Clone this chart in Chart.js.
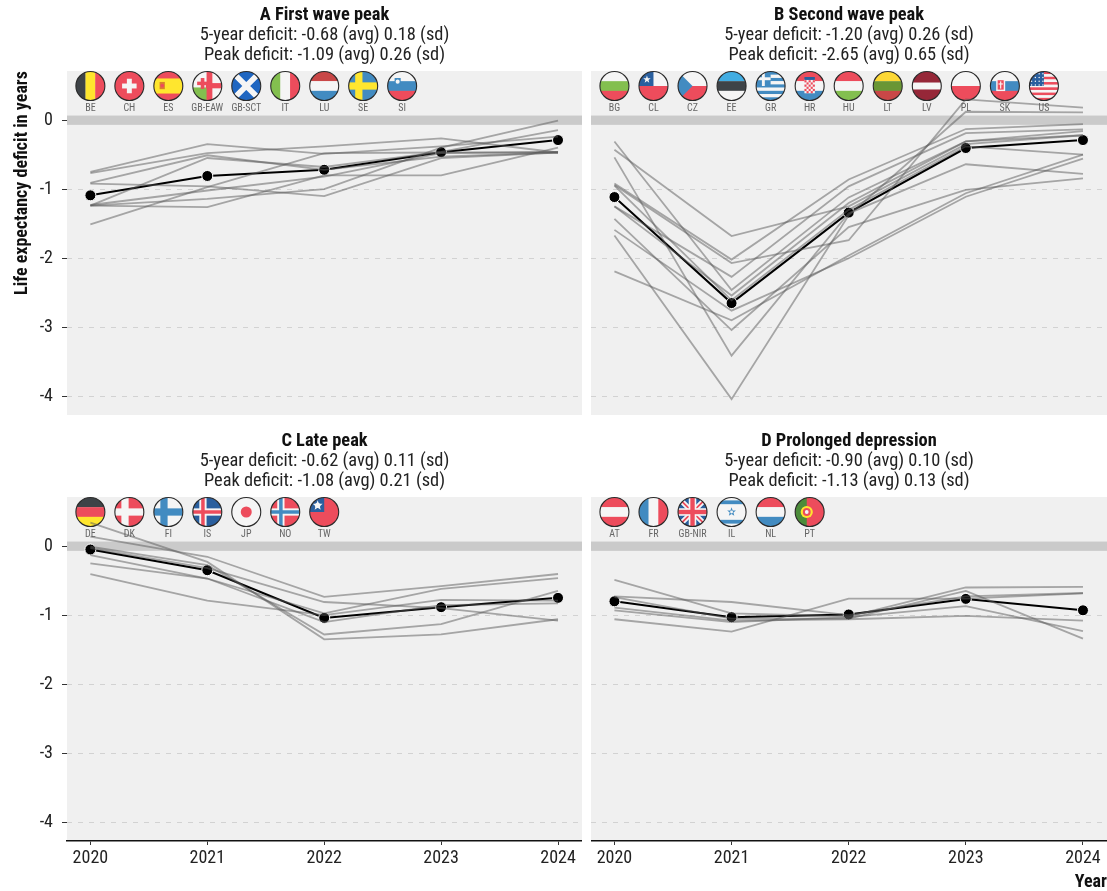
<!DOCTYPE html>
<html>
<head>
<meta charset="utf-8">
<script src="https://cdn.jsdelivr.net/npm/chart.js@4"></script>
<style>
  html, body { margin: 0; background: #fff; }
  canvas { position: absolute; }
</style>
</head>
<body>
<canvas id="panel_a" style="left:0;top:0"></canvas>
<canvas id="panel_b" style="left:591px;top:0"></canvas>
<canvas id="panel_c" style="left:0;top:426px"></canvas>
<canvas id="panel_d" style="left:591px;top:426px"></canvas>
<script>
const years = [2020, 2021, 2022, 2023, 2024];
const y_ticks = [0, -1, -2, -3, -4];

const a_title = "A First wave peak";
const a_sub = ["5-year deficit: -0.68 (avg) 0.18 (sd)", "Peak deficit: -1.09 (avg) 0.26 (sd)"];
const a_codes = ["BE", "CH", "ES", "GB-EAW", "GB-SCT", "IT", "LU", "SE", "SI"];
const a_mean = [-1.09, -0.81, -0.72, -0.465, -0.29];
const a_lines = [
    [-0.75, -0.35, -0.49, -0.38, -0.24],
    [-0.77, -0.48, -0.38, -0.265, -0.47],
    [-0.91, -0.51, -0.72, -0.53, -0.47],
    [-1.24, -0.55, -0.68, -0.46, -0.145],
    [-0.92, -0.96, -1.10, -0.55, -0.47],
    [-1.24, -1.14, -1.00, -0.40, -0.01],
    [-1.24, -1.26, -0.80, -0.80, -0.40],
    [-1.51, -0.97, -0.48, -0.47, -0.47],
    [-1.23, -1.02, -0.82, -0.48, -0.46]
];

const b_title = "B Second wave peak";
const b_sub = ["5-year deficit: -1.20 (avg) 0.26 (sd)", "Peak deficit: -2.65 (avg) 0.65 (sd)"];
const b_codes = ["BG", "CL", "CZ", "EE", "GR", "HR", "HU", "LT", "LV", "PL", "SK", "US"];
const b_mean = [-1.115, -2.65, -1.34, -0.405, -0.29];
const b_lines = [
    [-0.43, -1.68, -1.25, -0.35, -0.22],
    [-0.92, -2.02, -0.86, -0.13, -0.06],
    [-0.94, -2.07, -1.74, 0.30, 0.18],
    [-1.25, -2.27, -0.96, -0.19, -0.135],
    [-0.31, -2.46, -1.12, -0.31, -0.16],
    [-1.25, -2.54, -1.20, -0.31, -0.22],
    [-0.95, -2.61, -1.30, -0.38, -0.50],
    [-2.19, -2.90, -1.96, -1.06, -0.50],
    [-1.59, -2.76, -2.00, -1.11, -0.56],
    [-1.43, -3.04, -1.55, -1.01, -0.845],
    [-0.54, -3.41, -1.35, -0.64, -0.78],
    [-1.67, -4.04, -1.38, 0.12, 0.11]
];

const c_title = "C Late peak";
const c_sub = ["5-year deficit: -0.62 (avg) 0.11 (sd)", "Peak deficit: -1.08 (avg) 0.21 (sd)"];
const c_codes = ["DE", "DK", "FI", "IS", "JP", "NO", "TW"];
const c_mean = [-0.05, -0.35, -1.04, -0.885, -0.75];
const c_lines = [
    [0.34, -0.23, -1.35, -1.28, -1.06],
    [0.135, -0.155, -0.735, -0.58, -0.405],
    [-0.01, -0.275, -1.28, -1.13, -0.65],
    [-0.03, -0.32, -0.81, -0.90, -1.08],
    [-0.13, -0.47, -0.975, -0.62, -0.465],
    [-0.25, -0.47, -1.10, -0.855, -0.83],
    [-0.405, -0.79, -1.00, -0.78, -0.79]
];

const d_title = "D Prolonged depression";
const d_sub = ["5-year deficit: -0.90 (avg) 0.10 (sd)", "Peak deficit: -1.13 (avg) 0.13 (sd)"];
const d_codes = ["AT", "FR", "GB-NIR", "IL", "NL", "PT"];
const d_mean = [-0.80, -1.03, -0.99, -0.765, -0.93];
const d_lines = [
    [-0.49, -0.975, -1.02, -0.60, -0.59],
    [-0.73, -0.81, -1.00, -0.73, -0.68],
    [-0.74, -1.05, -1.05, -0.65, -1.34],
    [-0.89, -1.08, -1.06, -1.01, -1.08],
    [-0.93, -1.10, -1.03, -0.87, -1.23],
    [-1.06, -1.24, -0.76, -0.76, -0.685]
];

const FONT = "'Roboto Condensed', Roboto, sans-serif";
const RED = "#ed4c5c", WHITE = "#f5f5f5", BLUE = "#428bc1", GREEN = "#83bf4f",
      YELLOW = "#ffe62e", DARK = "#3e4347", NAVY = "#2a5f9e", MAROON = "#962738";

// flag helpers, all in a unit circle
function rect(g, c, x, y, w, h) { g.fillStyle = c; g.fillRect(x, y, w, h); }
function hbars(g, cols) { cols.forEach((c, i) => rect(g, c, -1, -1 + i * 2 / cols.length, 2, 2 / cols.length + 0.01)); }
function vbars(g, cols) { cols.forEach((c, i) => rect(g, c, -1 + i * 2 / cols.length, -1, 2 / cols.length + 0.01, 2)); }
function nordic(g, bg, c1, c2) {
    rect(g, bg, -1, -1, 2, 2);
    rect(g, c1, -0.55, -1, 0.5, 2); rect(g, c1, -1, -0.25, 2, 0.5);
    if (c2) { rect(g, c2, -0.42, -1, 0.24, 2); rect(g, c2, -1, -0.12, 2, 0.24); }
}
function saltire(g, c, w) {
    g.strokeStyle = c; g.lineWidth = w;
    g.beginPath(); g.moveTo(-1, -1); g.lineTo(1, 1); g.moveTo(1, -1); g.lineTo(-1, 1); g.stroke();
}
function dot(g, c, x, y, r) { g.fillStyle = c; g.beginPath(); g.arc(x, y, r, 0, 7); g.fill(); }
function star(g, c, x, y, r) {
    g.fillStyle = c; g.beginPath();
    for (let i = 0; i < 10; i++) {
        const a = -Math.PI / 2 + i * Math.PI / 5, k = i % 2 ? r * 0.42 : r;
        g.lineTo(x + k * Math.cos(a), y + k * Math.sin(a));
    }
    g.fill();
}

const flags = {
    "BE": g => vbars(g, [DARK, YELLOW, RED]),
    "CH": g => { rect(g, RED, -1, -1, 2, 2); rect(g, WHITE, -0.5, -0.17, 1, 0.34); rect(g, WHITE, -0.17, -0.5, 0.34, 1); },
    "ES": g => { rect(g, RED, -1, -1, 2, 2); rect(g, YELLOW, -1, -0.52, 2, 1.04); rect(g, "#d9822b", -0.6, -0.28, 0.36, 0.5); dot(g, RED, -0.42, -0.02, 0.13); },
    "GB-EAW": g => {
        rect(g, WHITE, -1, -1, 2, 2); rect(g, GREEN, -1, 0.1, 1, 0.9);
        rect(g, RED, -0.05, -1, 0.4, 2); rect(g, RED, -0.1, -0.2, 1.1, 0.36);
        rect(g, RED, -0.7, -0.3, 0.7, 0.24); rect(g, RED, -0.45, -0.55, 0.25, 0.75);
    },
    "GB-SCT": g => { rect(g, "#1f66c1", -1, -1, 2, 2); saltire(g, WHITE, 0.38); },
    "IT": g => vbars(g, [GREEN, WHITE, RED]),
    "LU": g => hbars(g, ["#c94747", WHITE, BLUE]),
    "SE": g => nordic(g, BLUE, YELLOW),
    "SI": g => { hbars(g, [WHITE, BLUE, RED]); rect(g, BLUE, -0.52, -0.55, 0.42, 0.5); dot(g, WHITE, -0.31, -0.3, 0.14); },
    "BG": g => hbars(g, [WHITE, GREEN, RED]),
    "CL": g => { rect(g, WHITE, -1, -1, 2, 1); rect(g, RED, -1, 0, 2, 1); rect(g, NAVY, -1, -1, 1, 1); star(g, WHITE, -0.45, -0.45, 0.27); },
    "CZ": g => {
        rect(g, WHITE, -1, -1, 2, 1); rect(g, RED, -1, 0, 2, 1);
        g.fillStyle = BLUE; g.beginPath(); g.moveTo(-1, -1); g.lineTo(0, 0); g.lineTo(-1, 1); g.fill();
    },
    "EE": g => hbars(g, ["#42ade2", DARK, WHITE]),
    "GR": g => {
        for (let i = 0; i < 9; i++) rect(g, i % 2 ? WHITE : BLUE, -1, -1 + i * 2 / 9, 2, 2 / 9 + 0.01);
        rect(g, BLUE, -1, -1, 1, 1); rect(g, WHITE, -0.6, -1, 0.2, 1); rect(g, WHITE, -1, -0.6, 1, 0.2);
    },
    "HR": g => {
        hbars(g, [RED, WHITE, BLUE]);
        rect(g, WHITE, -0.36, -0.45, 0.72, 0.95);
        for (let i = 0; i < 5; i++) for (let j = 0; j < 6; j++) {
            if ((i + j) % 2 == 0) rect(g, RED, -0.36 + i * 0.144, -0.4 + j * 0.15, 0.144, 0.15);
        }
        rect(g, NAVY, -0.36, -0.62, 0.72, 0.2);
    },
    "HU": g => hbars(g, [RED, WHITE, GREEN]),
    "LT": g => hbars(g, ["#fdd835", "#699635", "#c94747"]),
    "LV": g => { rect(g, MAROON, -1, -1, 2, 2); rect(g, WHITE, -1, -0.24, 2, 0.48); },
    "PL": g => { rect(g, WHITE, -1, -1, 2, 1); rect(g, RED, -1, 0, 2, 1); },
    "SK": g => {
        hbars(g, [WHITE, BLUE, RED]);
        rect(g, WHITE, -0.6, -0.5, 0.62, 0.85); rect(g, RED, -0.5, -0.4, 0.42, 0.65);
        rect(g, WHITE, -0.33, -0.32, 0.08, 0.5); rect(g, WHITE, -0.44, -0.18, 0.3, 0.08);
    },
    "US": g => {
        for (let i = 0; i < 11; i++) rect(g, i % 2 ? WHITE : RED, -1, -1 + i * 2 / 11, 2, 2 / 11 + 0.01);
        rect(g, NAVY, -1, -1, 1, 1);
        for (let i = 0; i < 4; i++) for (let j = 0; j < 4; j++) dot(g, WHITE, -0.85 + i * 0.26, -0.85 + j * 0.26, 0.05);
    },
    "DE": g => hbars(g, [DARK, RED, YELLOW]),
    "DK": g => nordic(g, RED, WHITE),
    "FI": g => nordic(g, WHITE, BLUE),
    "IS": g => nordic(g, NAVY, WHITE, RED),
    "JP": g => { rect(g, WHITE, -1, -1, 2, 2); dot(g, RED, 0, 0, 0.38); },
    "NO": g => nordic(g, RED, WHITE, BLUE),
    "TW": g => { rect(g, RED, -1, -1, 2, 2); rect(g, NAVY, -1, -1, 1, 1); star(g, WHITE, -0.45, -0.45, 0.36); dot(g, WHITE, -0.45, -0.45, 0.18); },
    "AT": g => hbars(g, [RED, WHITE, RED]),
    "FR": g => vbars(g, [BLUE, WHITE, RED]),
    "GB-NIR": g => {
        rect(g, NAVY, -1, -1, 2, 2); saltire(g, WHITE, 0.36); saltire(g, RED, 0.12);
        rect(g, WHITE, -0.26, -1, 0.52, 2); rect(g, WHITE, -1, -0.26, 2, 0.52);
        rect(g, RED, -0.15, -1, 0.3, 2); rect(g, RED, -1, -0.15, 2, 0.3);
    },
    "IL": g => {
        rect(g, WHITE, -1, -1, 2, 2); rect(g, BLUE, -1, -0.8, 2, 0.26); rect(g, BLUE, -1, 0.54, 2, 0.26);
        star(g, BLUE, 0, 0, 0.32); dot(g, WHITE, 0, 0, 0.1);
    },
    "NL": g => hbars(g, [RED, WHITE, BLUE]),
    "PT": g => {
        rect(g, RED, -1, -1, 2, 2); rect(g, "#4c8c3a", -1, -1, 0.8, 2);
        dot(g, YELLOW, -0.2, 0, 0.42); dot(g, RED, -0.2, 0, 0.27); dot(g, WHITE, -0.2, 0, 0.13);
    }
};

const panel_plugin = {
    id: "panel_plugin",
    beforeDraw(chart) {
        const a = chart.chartArea, c = chart.ctx;
        c.save();
        c.fillStyle = "#f0f0f0";
        c.fillRect(a.left, a.top, a.right - a.left, a.bottom - a.top);
        c.restore();
    },
    beforeDatasetsDraw(chart, args, opts) {
        const a = chart.chartArea, c = chart.ctx, sx = chart.scales.x, sy = chart.scales.y;
        c.save();
        // zero reference band
        c.fillStyle = "#cacaca";
        const top = sy.getPixelForValue(0.065), bot = sy.getPixelForValue(-0.07);
        c.fillRect(a.left, top, a.right - a.left, bot - top);
        // country flags with their codes
        const r = 14.5, fy = a.top + 15, ly = a.top + 37;
        opts.codes.forEach((code, i) => {
            const fx = sx.getPixelForValue(years[0] + i / 3);
            c.save();
            c.translate(fx, fy);
            c.beginPath(); c.arc(0, 0, r, 0, 7); c.clip();
            c.scale(r, r);
            flags[code](c);
            c.restore();
            c.strokeStyle = "#2a2a2a"; c.lineWidth = 1.1;
            c.beginPath(); c.arc(fx, fy, r, 0, 7); c.stroke();
            c.fillStyle = "#666";
            c.font = "10px " + FONT;
            c.textAlign = "center"; c.textBaseline = "middle";
            c.fillText(code, fx, ly);
        });
        c.restore();
    }
};

function draw_panel(id, title, sub, codes, lines, mean, is_left, is_bottom, show_year) {
    const datasets = lines.map(vals => ({
        data: vals.map((v, i) => ({ x: years[i], y: v })),
        borderColor: "rgba(90, 90, 90, 0.5)",
        borderWidth: 1.8,
        pointRadius: 0,
        tension: 0
    }));
    datasets.push({
        data: mean.map((v, i) => ({ x: years[i], y: v })),
        borderColor: "#000",
        borderWidth: 2,
        pointRadius: 5.5,
        pointBackgroundColor: "#000",
        pointBorderColor: "#fff",
        pointBorderWidth: 1,
        tension: 0
    });
    const canvas = document.getElementById(id);
    canvas.width = is_left ? 582 : 516;
    canvas.height = 465;
    new Chart(canvas, {
        type: "line",
        data: { datasets: datasets },
        plugins: [panel_plugin],
        options: {
            responsive: false,
            animation: false,
            layout: { padding: 0, autoPadding: false },
            plugins: {
                legend: { display: false },
                tooltip: { enabled: false },
                panel_plugin: { codes: codes },
                title: {
                    display: true, text: title, color: "#111", fullSize: false,
                    font: { family: FONT, size: 18.4, weight: "bold", lineHeight: "20px" },
                    padding: { top: 5, bottom: 0 }
                },
                subtitle: {
                    display: true, text: sub, color: "#222", fullSize: false,
                    font: { family: FONT, size: 18.4, weight: "normal", lineHeight: "20px" },
                    padding: { top: 0, bottom: 6 }
                }
            },
            scales: {
                x: {
                    type: "linear",
                    min: 2020 - 23.4 / 117,
                    max: 2024 + 24 / 117,
                    afterBuildTicks: s => { s.ticks = years.map(v => ({ value: v })); },
                    afterFit: s => { s.height = 50; },
                    grid: { display: is_bottom, drawOnChartArea: false, color: "#333", tickColor: "#333", tickLength: 4 },
                    border: { display: is_bottom, color: "#111", width: 1.6 },
                    ticks: {
                        display: is_bottom,
                        color: "#222", padding: 3, maxRotation: 0, autoSkip: false,
                        font: { family: FONT, size: 18 },
                        callback: v => String(v)
                    },
                    title: {
                        display: show_year, text: "Year", align: "end", color: "#111",
                        font: { family: FONT, size: 18, weight: "bold", lineHeight: "18px" },
                        padding: 0
                    }
                },
                y: {
                    type: "linear",
                    min: -4.27,
                    max: 0.71,
                    afterBuildTicks: s => { s.ticks = y_ticks.map(v => ({ value: v })); },
                    afterFit: s => { s.width = is_left ? 67 : 0; },
                    grid: {
                        drawTicks: is_left,
                        tickLength: 5,
                        tickColor: "#333",
                        tickBorderDash: [],
                        color: c => (c.tick && c.tick.value == 0) ? "rgba(0,0,0,0)" : "#d2d2d2"
                    },
                    border: { display: false, dash: [5, 6] },
                    ticks: {
                        display: is_left, color: "#222", padding: 9,
                        font: { family: FONT, size: 18 },
                        callback: v => String(v)
                    },
                    title: {
                        display: is_left && !is_bottom, text: "Life expectancy deficit in years", align: "end", color: "#111",
                        font: { family: FONT, size: 18, weight: "bold", lineHeight: "18px" },
                        padding: { top: 13, bottom: 0 }
                    }
                }
            }
        }
    });
}

draw_panel("panel_a", a_title, a_sub, a_codes, a_lines, a_mean, true, false, false);
draw_panel("panel_b", b_title, b_sub, b_codes, b_lines, b_mean, false, false, false);
draw_panel("panel_c", c_title, c_sub, c_codes, c_lines, c_mean, true, true, false);
draw_panel("panel_d", d_title, d_sub, d_codes, d_lines, d_mean, false, true, true);
</script>
</body>
</html>
